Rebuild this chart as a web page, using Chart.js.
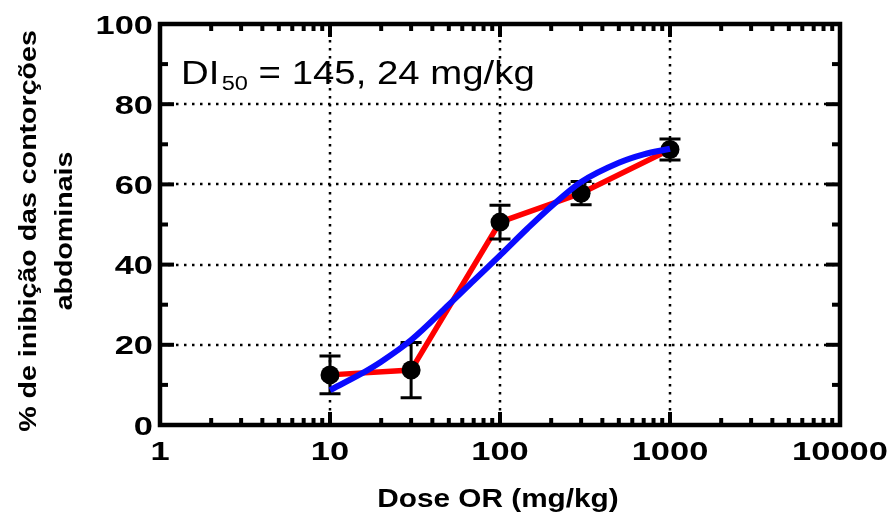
<!DOCTYPE html>
<html>
<head>
<meta charset="utf-8">
<script src="https://cdn.jsdelivr.net/npm/chart.js@4"></script>
<style>
  html, body { margin: 0; padding: 0; background: #ffffff; }
  #wrap { width: 891px; height: 512px; }
</style>
</head>
<body>
<div id="wrap"><canvas id="c" width="891" height="512"></canvas></div>
<script>
// Dose-response: mean inhibition (%) with SEM, and the fitted sigmoid
const doses = [10, 30, 100, 300, 1000];
const inhibition = [12.5, 13.7, 50.6, 57.8, 68.7];
const sem = [4.7, 6.9, 4.2, 2.9, 2.6];

const fitDoses = [10, 15, 20, 30, 50, 70, 100, 145, 200, 300, 500, 700, 1000];
const fitValues = [8.7, 12.6, 15.8, 21.2, 30.0, 36.0, 42.3, 49.0, 54.5, 60.6, 65.4, 67.5, 68.9];

const xTickValues = [1, 10, 100, 1000, 10000];
const xTickLabels = ['1', '10', '100', '1000', '10000'];
const yMajorTicks = [0, 20, 40, 60, 80, 100];
const yTickLabels = ['0', '20', '40', '60', '80', '100'];
const yMinorTicks = [10, 30, 50, 70, 90];
const xGridValues = [10, 100, 1000];
const yGridValues = [20, 40, 60, 80];

const yTitleLines = ['% de inibição das contorções', 'abdominais'];
const xTitle = 'Dose OR (mg/kg)';
const annotationMain = 'DI';
const annotationSub = '50';
const annotationRest = ' = 145, 24 mg/kg';

const FONT = '"Liberation Sans", Arial, Helvetica, sans-serif';

const pts = doses.map((d, i) => ({ x: d, y: inhibition[i] }));
const fitPts = fitDoses.map((d, i) => ({ x: d, y: fitValues[i] }));

// minor tick positions on the log axis: 2..9 in each decade
const xMinorTicks = [];
for (let dec = 1; dec < 10000; dec *= 10) {
  for (let m = 2; m <= 9; m++) xMinorTicks.push(m * dec);
}

// text drawn with a horizontal stretch (wide lettering)
function wideText(ctx, text, x, y, sx, align) {
  ctx.save();
  ctx.translate(x, y);
  ctx.scale(sx, 1);
  ctx.textAlign = align;
  ctx.fillText(text, 0, 0);
  ctx.restore();
}

const framePlugin = {
  id: 'frame',
  beforeDatasetsDraw(chart) {
    const { ctx, chartArea: a, scales: { x, y } } = chart;
    ctx.save();
    ctx.strokeStyle = '#000';
    ctx.lineWidth = 2.5;
    ctx.setLineDash([2.5, 5.5]);
    xGridValues.forEach(v => {
      const px = Math.round(x.getPixelForValue(v));
      ctx.beginPath(); ctx.moveTo(px, a.top); ctx.lineTo(px, a.bottom); ctx.stroke();
    });
    yGridValues.forEach(v => {
      const py = Math.round(y.getPixelForValue(v));
      ctx.beginPath(); ctx.moveTo(a.left, py); ctx.lineTo(a.right, py); ctx.stroke();
    });
    ctx.restore();
  },
  afterDatasetDraw(chart, args) {
    if (args.index !== 1) return;
    const { ctx, scales: { x, y } } = chart;
    ctx.save();
    ctx.strokeStyle = '#000';
    ctx.lineWidth = 3;
    const cap = 10.5;
    doses.forEach((d, i) => {
      const px = x.getPixelForValue(d);
      const top = y.getPixelForValue(inhibition[i] + sem[i]);
      const bot = y.getPixelForValue(inhibition[i] - sem[i]);
      ctx.beginPath();
      ctx.moveTo(px, top); ctx.lineTo(px, bot);
      ctx.moveTo(px - cap, top); ctx.lineTo(px + cap, top);
      ctx.moveTo(px - cap, bot); ctx.lineTo(px + cap, bot);
      ctx.stroke();
    });
    ctx.restore();
  },
  afterDatasetsDraw(chart) {
    const { ctx, chartArea: a, scales: { x, y } } = chart;
    ctx.save();
    ctx.strokeStyle = '#000';
    // inward tick marks on all four sides
    ctx.lineWidth = 4;
    const tick = (x1, y1, x2, y2) => { ctx.beginPath(); ctx.moveTo(x1, y1); ctx.lineTo(x2, y2); ctx.stroke(); };
    yMajorTicks.forEach(v => {
      const py = y.getPixelForValue(v);
      tick(a.left, py, a.left + 14, py);
      tick(a.right, py, a.right - 14, py);
    });
    yMinorTicks.forEach(v => {
      const py = y.getPixelForValue(v);
      tick(a.left, py, a.left + 8, py);
      tick(a.right, py, a.right - 8, py);
    });
    xTickValues.forEach(v => {
      const px = x.getPixelForValue(v);
      tick(px, a.bottom, px, a.bottom - 13);
      tick(px, a.top, px, a.top + 13);
    });
    xMinorTicks.forEach(v => {
      const px = x.getPixelForValue(v);
      tick(px, a.bottom, px, a.bottom - 7);
      tick(px, a.top, px, a.top + 7);
    });
    // plot frame
    ctx.lineWidth = 4.5;
    ctx.strokeRect(a.left, a.top, a.right - a.left, a.bottom - a.top);

    ctx.fillStyle = '#000';
    ctx.textBaseline = 'alphabetic';

    // tick labels
    ctx.font = 'bold 26.5px ' + FONT;
    yMajorTicks.forEach((v, i) => {
      wideText(ctx, yTickLabels[i], a.left - 7, y.getPixelForValue(v) + 9.5, 1.3, 'right');
    });
    xTickValues.forEach((v, i) => {
      wideText(ctx, xTickLabels[i], x.getPixelForValue(v), a.bottom + 35, 1.3, 'center');
    });

    // axis titles
    ctx.font = 'bold 25px ' + FONT;
    wideText(ctx, xTitle, 498, 507, 1.19, 'center');

    ctx.font = 'bold 24px ' + FONT;
    ctx.save();
    ctx.translate(36, 231);
    ctx.rotate(-Math.PI / 2);
    wideText(ctx, yTitleLines[0], 0, 0, 1.19, 'center');
    wideText(ctx, yTitleLines[1], 0, 36, 1.19, 'center');
    ctx.restore();

    // DI50 annotation
    const sx = 1.18;
    let tx = 181;
    const ty = 84;
    ctx.font = '32.5px ' + FONT;
    wideText(ctx, annotationMain, tx, ty, sx, 'left');
    tx += (ctx.measureText(annotationMain).width + 2) * sx;
    ctx.font = '20px ' + FONT;
    wideText(ctx, annotationSub, tx, ty + 6, sx, 'left');
    tx += ctx.measureText(annotationSub).width * sx;
    ctx.font = '32.5px ' + FONT;
    wideText(ctx, annotationRest, tx, ty, sx, 'left');
    ctx.restore();
  }
};

new Chart(document.getElementById('c'), {
  type: 'scatter',
  data: {
    datasets: [
      {
        label: 'ajuste',
        data: fitPts,
        showLine: true,
        borderColor: '#0a0aff',
        borderWidth: 6,
        pointRadius: 0,
        cubicInterpolationMode: 'monotone',
        order: 0
      },
      {
        label: 'média ± EPM',
        data: pts,
        showLine: false,
        pointRadius: 9.5,
        pointBackgroundColor: '#000',
        pointBorderColor: '#000',
        pointBorderWidth: 0,
        order: 1
      },
      {
        label: 'média',
        data: pts,
        showLine: true,
        borderColor: '#ff0000',
        borderWidth: 5.5,
        pointRadius: 0,
        tension: 0,
        order: 2
      }
    ]
  },
  options: {
    responsive: false,
    animation: false,
    devicePixelRatio: 1,
    layout: { padding: { left: 0, right: 51, top: 24, bottom: 0 } },
    plugins: { legend: { display: false }, tooltip: { enabled: false } },
    scales: {
      x: {
        type: 'logarithmic',
        min: 1,
        max: 10000,
        afterBuildTicks(scale) {
          scale.ticks = xTickValues.map(v => ({ value: v }));
        },
        afterFit(scale) { scale.height = 87; },
        grid: { display: false, drawTicks: false },
        border: { display: false },
        ticks: { display: false }
      },
      y: {
        min: 0,
        max: 100,
        afterFit(scale) { scale.width = 160; },
        grid: { display: false, drawTicks: false },
        border: { display: false },
        ticks: { display: false, stepSize: 20 }
      }
    }
  },
  plugins: [framePlugin]
});
</script>
</body>
</html>
